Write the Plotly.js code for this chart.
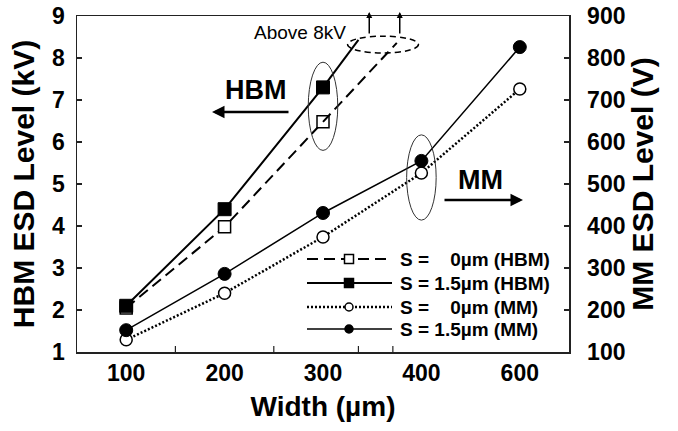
<!DOCTYPE html>
<html>
<head>
<meta charset="utf-8">
<script src="https://cdn.plot.ly/plotly-3.0.1.min.js"></script>
<style>html,body{margin:0;padding:0;background:#fff;}#chart{width:678px;height:431px;}</style>
</head>
<body>
<div id="chart"></div>
<script>
// Categories (x axis, equally spaced)
const widthLabels = ['100', '200', '300', '400', '600'];
// HBM ESD level (kV), left axis
const hbmS0 = [2.05, 3.98, 6.48];
const hbmS15 = [2.1, 4.4, 7.3];
// "Above 8kV" continuation (fractional category position, kV)
const hbmS0AboveX = [2.75];
const hbmS0AboveY = [8.36];
const hbmS15AboveX = [2.36];
const hbmS15AboveY = [8.43];
// MM ESD level (V), right axis
const mmS0 = [129, 240, 374, 526, 726];
const mmS15 = [152, 286, 431, 555, 826];
// Legend names
const seriesNames = ['S = \u2007\u20080µm (HBM)', 'S = 1.5µm (HBM)', 'S = \u2007\u20080µm (MM)', 'S = 1.5µm (MM)'];

const idx = widthLabels.map((_, i) => i);
const F = 'Liberation Sans, Arial, sans-serif';

const styles = [
  { line: { color: '#000', width: 2, dash: '11px,6px' },
    marker: { symbol: 'square', size: 12, color: '#fff', line: { color: '#000', width: 1.5 } } },
  { line: { color: '#000', width: 2 },
    marker: { symbol: 'square', size: 13, color: '#000', line: { color: '#000', width: 1 } } },
  { line: { color: '#000', width: 2.5, dash: '2px,2px' },
    marker: { symbol: 'circle', size: 12, color: '#fff', line: { color: '#000', width: 1.5 } } },
  { line: { color: '#000', width: 1.5 },
    marker: { symbol: 'circle', size: 13, color: '#000', line: { color: '#000', width: 1 } } }
];

const traces = [
  Object.assign({ x: idx.slice(0, hbmS0.length), y: hbmS0, name: seriesNames[0], type: 'scatter', mode: 'lines+markers' }, styles[0]),
  Object.assign({ x: idx.slice(0, hbmS15.length), y: hbmS15, name: seriesNames[1], type: 'scatter', mode: 'lines+markers' }, styles[1]),
  Object.assign({ x: idx, y: mmS0, name: seriesNames[2], type: 'scatter', mode: 'lines+markers', yaxis: 'y2' }, styles[2]),
  Object.assign({ x: idx, y: mmS15, name: seriesNames[3], type: 'scatter', mode: 'lines+markers', yaxis: 'y2' }, styles[3]),
  // continuation lines above 8 kV
  { x: [idx[hbmS0.length - 1]].concat(hbmS0AboveX), y: [hbmS0[hbmS0.length - 1]].concat(hbmS0AboveY),
    type: 'scatter', mode: 'lines', showlegend: false, hoverinfo: 'skip', line: styles[0].line },
  { x: [idx[hbmS15.length - 1]].concat(hbmS15AboveX), y: [hbmS15[hbmS15.length - 1]].concat(hbmS15AboveY),
    type: 'scatter', mode: 'lines', showlegend: false, hoverinfo: 'skip', line: styles[1].line }
];

// ---- custom legend (drawn with shapes + annotations) ----
const legRowsPx = [259, 283, 307, 329];
const pY = py => (352 - py) / 336;
const pX = px => (px - 77) / 492;
const legShapes = [];
const legAnn = [];
legRowsPx.forEach((py, i) => {
  const st = styles[i];
  legShapes.push({ type: 'line', xref: 'paper', yref: 'paper', x0: pX(307), x1: pX(392), y0: pY(py), y1: pY(py),
    line: { color: st.line.color, width: st.line.width, dash: st.line.dash || 'solid' } });
  const isSq = st.marker.symbol === 'square';
  const half = isSq ? 4.5 : 4;
  legShapes.push({ type: isSq ? 'rect' : 'circle', xref: 'paper', yref: 'paper',
    xsizemode: 'pixel', ysizemode: 'pixel', xanchor: pX(349), yanchor: pY(py),
    x0: -half, x1: half, y0: -half, y1: half,
    fillcolor: st.marker.color, line: { color: '#000', width: 1.5 } });
  legAnn.push({ text: seriesNames[i], xref: 'paper', yref: 'paper', x: pX(398), y: pY(py),
    xanchor: 'left', yanchor: 'middle', showarrow: false,
    font: { family: F, size: 19, weight: 'bold', color: '#000' } });
});

// inner tick marks on x axis
const xTickPos = [0.5, 1.5, 2.36, 2.71];
const tickShapes = xTickPos.map(v => ({ type: 'line', xref: 'x', yref: 'paper', ysizemode: 'pixel', yanchor: 0,
  x0: v, x1: v, y0: 0, y1: 6, line: { color: '#222', width: 1.2 } }));

const layout = {
  width: 678, height: 431,
  margin: { l: 77, r: 109, t: 16, b: 79, pad: 0 },
  paper_bgcolor: '#fff', plot_bgcolor: '#fff',
  font: { family: F, color: '#000' },
  showlegend: false,
  xaxis: {
    range: [-0.5, 4.5], tickmode: 'array', tickvals: idx, ticktext: widthLabels,
    ticks: '', showgrid: false, zeroline: false,
    showline: true, linecolor: '#222', linewidth: 1.5, mirror: true,
    tickfont: { family: F, size: 23, weight: 'bold', color: '#000' },
    title: { text: 'Width (µm)', font: { family: F, size: 28, weight: 'bold', color: '#000' }, standoff: 11 }
  },
  yaxis: {
    range: [1, 9], tickmode: 'linear', tick0: 1, dtick: 1,
    ticks: 'inside', ticklen: 5, tickcolor: '#222', tickwidth: 1.2,
    showgrid: false, zeroline: false,
    showline: true, linecolor: '#222', linewidth: 1.5,
    tickfont: { family: F, size: 23, weight: 'bold', color: '#000' },
    ticklabelstandoff: 6,
    title: { text: 'HBM ESD Level (kV)', font: { family: F, size: 30, weight: 'bold', color: '#000' }, standoff: 8 }
  },
  yaxis2: {
    overlaying: 'y', side: 'right',
    range: [100, 900], tickmode: 'linear', tick0: 100, dtick: 100,
    ticks: 'inside', ticklen: 5, tickcolor: '#222', tickwidth: 1.2,
    showgrid: false, zeroline: false,
    showline: true, linecolor: '#222', linewidth: 1.5,
    tickfont: { family: F, size: 23, weight: 'bold', color: '#000' },
    ticklabelstandoff: 12,
    title: { text: 'MM ESD Level (V)', font: { family: F, size: 30, weight: 'bold', color: '#000' }, standoff: 7 }
  },
  shapes: [
    { type: 'circle', xref: 'x', yref: 'y', x0: 1.85, x1: 2.15, y0: 5.8, y1: 7.9, line: { color: '#333', width: 1 } },
    { type: 'circle', xref: 'x', yref: 'y2', x0: 2.85, x1: 3.15, y0: 414, y1: 617, line: { color: '#333', width: 1 } },
    { type: 'circle', xref: 'x', yref: 'y', x0: 2.25, x1: 2.97, y0: 8.12, y1: 8.52, line: { color: '#000', width: 1.5, dash: '6px,4px' } }
  ].concat(tickShapes, legShapes),
  annotations: [
    { text: 'Above 8kV', xref: 'paper', yref: 'paper', x: pX(252), y: pY(32), xanchor: 'left', yanchor: 'middle', showarrow: false,
      font: { family: F, size: 19, color: '#000' } },
    { text: 'HBM', xref: 'paper', yref: 'paper', x: pX(256), y: pY(90), xanchor: 'center', yanchor: 'middle', showarrow: false,
      font: { family: F, size: 27, weight: 'bold', color: '#000' } },
    { text: 'MM', xref: 'paper', yref: 'paper', x: pX(480), y: pY(180), xanchor: 'center', yanchor: 'middle', showarrow: false,
      font: { family: F, size: 27, weight: 'bold', color: '#000' } },
    { text: '', xref: 'paper', yref: 'paper', x: pX(212), y: pY(112), ax: 78, ay: 0,
      showarrow: true, arrowhead: 2, arrowsize: 1, arrowwidth: 2.5, arrowcolor: '#000' },
    { text: '', xref: 'paper', yref: 'paper', x: pX(523), y: pY(200), ax: -80, ay: 0,
      showarrow: true, arrowhead: 2, arrowsize: 1, arrowwidth: 2.5, arrowcolor: '#000' },
    { text: '', xref: 'x', yref: 'paper', x: 2.47, y: pY(12), ax: 0, ay: 23,
      showarrow: true, arrowhead: 2, arrowsize: 0.8, arrowwidth: 1.5, arrowcolor: '#000' },
    { text: '', xref: 'x', yref: 'paper', x: 2.78, y: pY(12), ax: 0, ay: 23,
      showarrow: true, arrowhead: 2, arrowsize: 0.8, arrowwidth: 1.5, arrowcolor: '#000' }
  ].concat(legAnn)
};

Plotly.newPlot('chart', traces, layout, { staticPlot: true, displayModeBar: false });
</script>
</body>
</html>
